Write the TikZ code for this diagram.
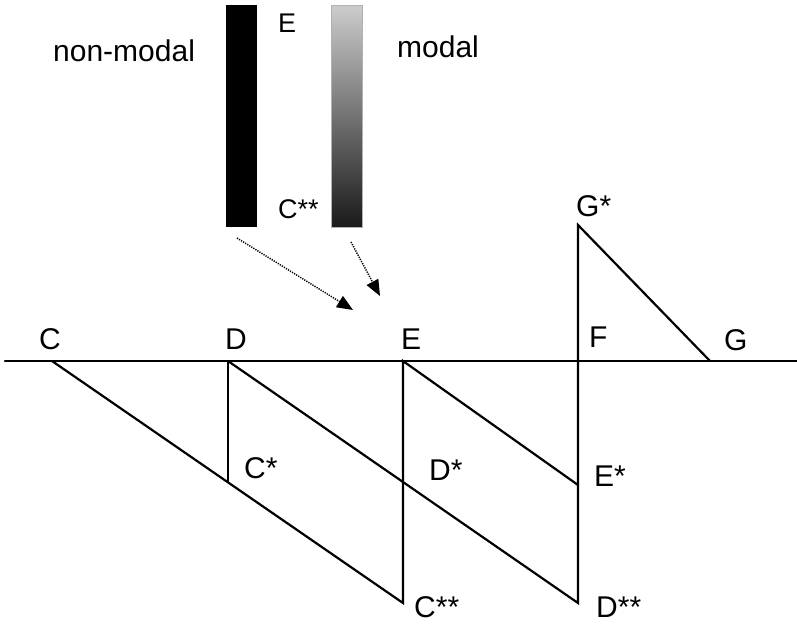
\documentclass[tikz,border=0pt]{standalone}
\usepackage{fontspec}
\setmainfont{Liberation Sans}
\usetikzlibrary{arrows.meta}
\begin{document}
\begin{tikzpicture}[x=1pt,y=-1pt,
  lbl/.style={anchor=base west,inner sep=0pt,font=\fontsize{30}{32}\selectfont},
  barlbl/.style={anchor=base west,inner sep=0pt,font=\fontsize{27}{29}\selectfont},
  ln/.style={line width=2.2pt,line cap=round},
  darr/.style={line width=1.5pt,dash pattern=on 1.2pt off 1.2pt,-{Triangle[length=16pt,width=13pt]}}]
\useasboundingbox (0,0) rectangle (797,624);
% bars
\fill[black] (226,5) rectangle (257,227);
\shade[top color=black!20,bottom color=black!90] (331,5) rectangle (362,227);
\draw[black!30,line width=0.5pt] (331,5) rectangle (362,227);
\node[lbl] (nm) at (53,61) {non-modal};
\node[lbl] (md) at (397,57) {modal};
\node[barlbl] (tE) at (278,32) {E};
\node[barlbl] (tC) at (278,218) {C**};
% arrows
\coordinate (a1s) at (237,238);
\coordinate (a1e) at (353,310);
\coordinate (a2s) at (351,242);
\coordinate (a2e) at (380,296);
\draw[darr] (a1s) -- (a1e);
\draw[darr] (a2s) -- (a2e);
% points
\coordinate (L) at (5,361);
\coordinate (R) at (797,361);
\coordinate (C) at (52,361);
\coordinate (D) at (228,361);
\coordinate (E) at (403,361);
\coordinate (F) at (578,361);
\coordinate (G) at (710,361);
\coordinate (Cs) at (228,482);
\coordinate (Css) at (403,603);
\coordinate (Es) at (578,485);
\coordinate (Dss) at (578,603);
\coordinate (Gs) at (578,225);
\draw[ln] (L) -- (R);
\draw[ln] (C) -- (Css) -- (E) -- (Es);
\draw[ln] (D) -- (Cs);
\draw[ln] (D) -- (Dss) -- (Gs) -- (G);
% labels
\node[lbl] (lC) at (39,349) {C};
\node[lbl] (lD) at (225,349) {D};
\node[lbl] (lE) at (401,349) {E};
\node[lbl] (lF) at (589,347) {F};
\node[lbl] (lG) at (724,350) {G};
\node[lbl] (lGs) at (576,216) {G*};
\node[lbl] (lCs) at (244,478) {C*};
\node[lbl] (lDs) at (429,480) {D*};
\node[lbl] (lEs) at (594,486) {E*};
\node[lbl] (lCss) at (414,617) {C**};
\node[lbl] (lDss) at (596,617) {D**};
\end{tikzpicture}
\end{document}
